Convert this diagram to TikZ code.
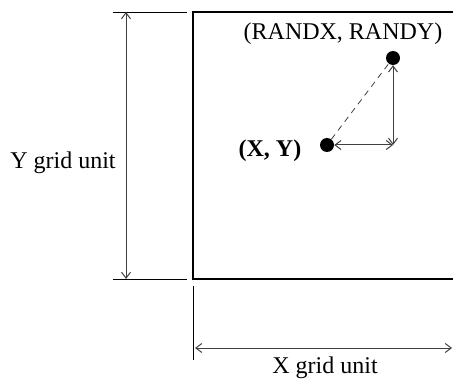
\documentclass[tikz,border=0pt]{standalone}
\usepackage{fontspec}
\setmainfont{Liberation Serif}
\usetikzlibrary{positioning,arrows.meta}

\begin{document}
\begin{tikzpicture}[x=1pt, y=-1pt, font=\fontsize{24}{26}\selectfont,
  dim/.style={{Straight Barb[length=6pt,width=9pt]}-{Straight Barb[length=6pt,width=9pt]},
    black!75, line width=1pt},
  ext/.style={line width=0.8pt},
  spot/.style={circle, fill=black, inner sep=0pt, minimum size=14pt}]
  \useasboundingbox (0,0) rectangle (453,385);
  % Grid cell (its right side runs off the picture)
  \coordinate (tl) at (193,12);
  \coordinate (bl) at (193,279);
  \draw[line width=1.7pt] (453,12) -- (tl) -- (bl) -- (453,279);
  % Extension lines
  \coordinate (ya) at (113,12);
  \coordinate (yb) at (187,12);
  \coordinate (yc) at (113,279);
  \coordinate (yd) at (187,279);
  \coordinate (xa) at (193,286);
  \coordinate (xb) at (193,360);
  \draw[ext] (ya) -- (yb);
  \draw[ext] (yc) -- (yd);
  \draw[ext] (xa) -- (xb);
  % Y grid unit dimension
  \coordinate (ytop) at (126,12);
  \coordinate (ybot) at (126,279);
  \draw[dim] (ytop) -- (ybot);
  \node (ylab) at (63,163) {Y grid unit};
  % X grid unit dimension
  \coordinate (xleft) at (195,348);
  \coordinate (xright) at (452,348);
  \draw[dim] (xleft) -- (xright);
  \node (xlab) at (325,368) {X grid unit};
  % Points
  \node[spot] (cur) at (327,145) {};
  \node[spot] (rnd) at (393,58) {};
  \coordinate (corner) at (393,145);
  \node (curlab) at (270,151) {\bfseries (X, Y)};
  \node (rndlab) at (343,34) {(RANDX, RANDY)};
  % Offsets between the points
  \draw[black!75, line width=0.8pt, dash pattern=on 6pt off 5pt] (cur) -- (rnd);
  \draw[dim] (cur) -- (corner);
  \draw[dim] (corner) -- (rnd);
\end{tikzpicture}
\end{document}
